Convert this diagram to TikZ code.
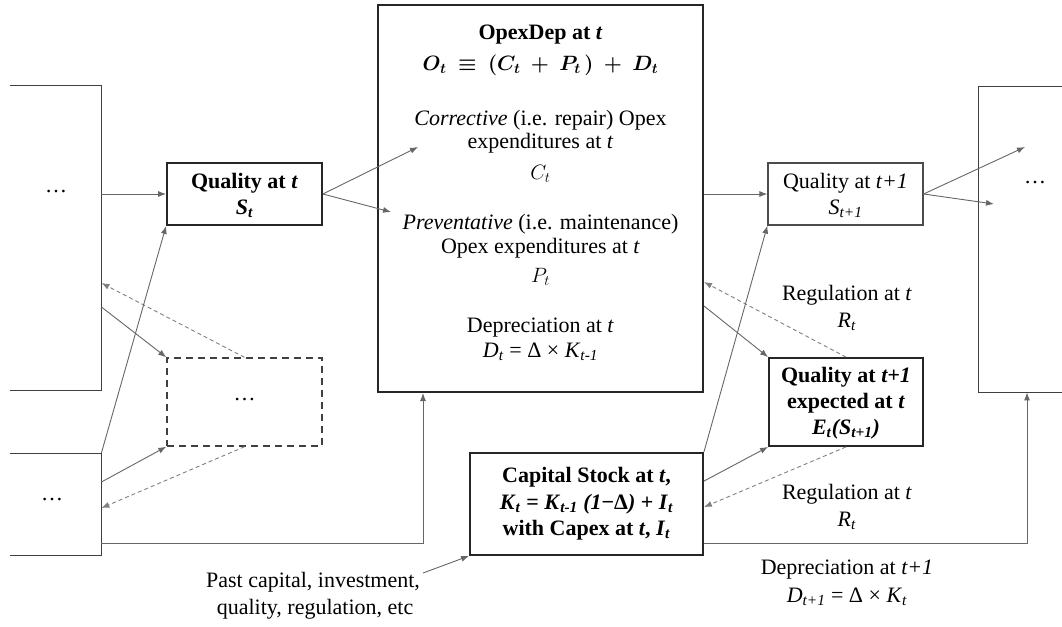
\documentclass[tikz,border=0pt]{standalone}
\usepackage{fontspec}
\setmainfont{Liberation Serif}
\usepackage{bm}
\usetikzlibrary{arrows.meta,calc}
\newcommand\tsb[1]{\textsubscript{#1}}
\newcommand\ti[1]{\textit{#1}}
\begin{document}
\begin{tikzpicture}[x=1pt,y=-1pt,
  font=\fontsize{22}{24}\selectfont,
  box/.style={draw=black!85, line width=1.8pt, inner sep=0pt},
  thinbox/.style={draw=black!70, line width=1pt, inner sep=0pt},
  dbox/.style={draw=black!75, line width=1.4pt, dash pattern=on 7pt off 5pt, inner sep=0pt},
  frame/.style={draw=none, inner sep=0pt, anchor=north west},
  side/.style={draw=black!75, line width=1pt},
  txt/.style={inner sep=0pt, align=center},
  arr/.style={draw=black!60, line width=0.9pt, -{Latex[length=8pt,width=6pt]}},
  darr/.style={draw=black!50, line width=0.9pt, dash pattern=on 4pt off 3pt, -{Latex[length=8pt,width=6pt]}},
]
\useasboundingbox (0,0) rectangle (1062,626);

% open-sided frames
\node[frame, minimum width=91pt, minimum height=305pt] (LT) at (10,85) {};
\node[frame, minimum width=91pt, minimum height=102pt] (LB) at (10,453) {};
\node[frame, minimum width=84pt, minimum height=306pt] (RB) at (978,86) {};
\draw[side] (LT.north west) -- (LT.north east) -- (LT.south east) -- (LT.south west);
\draw[side] (LB.north west) -- (LB.north east) -- (LB.south east) -- (LB.south west);
\draw[side] (RB.north east) -- (RB.north west) -- (RB.south west) -- (RB.south east);
\node[txt] (LTd) at (56,192) {\dots};
\node[txt] (LBd) at (52,500) {\dots};
\node[txt] (RBd) at (1035,183) {\dots};

% boxes
\node[box, minimum width=155pt, minimum height=62pt] (QT) at (244.5,194) {};
\node[txt] (QT1) at (244.5,183) {\textbf{Quality at \ti{t}}};
\node[txt] (QT2) at (244.5,209) {\textbf{\ti{S}\tsb{\ti{t}}}};

\node[dbox, minimum width=155pt, minimum height=88pt] (DB) at (244.5,402) {};
\node[txt] (DBd) at (244.5,400) {\dots};

\node[box, line width=2pt, minimum width=325pt, minimum height=387pt] (MB) at (540.5,198.5) {};
\node[txt] (mb1) at (540.5,35) {\textbf{OpexDep at \ti{t}}};
\node[txt] (mb2) at (540.5,65) {$\bm{O_t \;\equiv\; (C_t \;+\; P_t\,) \;+\; D_t}$};
\node[txt] (mb3) at (540.5,120) {\ti{Corrective} (i.e. repair) Opex};
\node[txt] (mb4) at (540.5,143) {expenditures at \ti{t}};
\node[txt] (mb5) at (540.5,174) {$C_t$};
\node[txt] (mb6) at (540.5,224) {\ti{Preventative} (i.e. maintenance)};
\node[txt] (mb7) at (540.5,248) {Opex expenditures at \ti{t}};
\node[txt] (mb8) at (540.5,277) {$P_t$};
\node[txt] (mb9) at (540.5,328) {Depreciation at \ti{t}};
\node[txt] (mb10) at (540.5,352) {\ti{D}\tsb{\ti{t}} = Δ × \ti{K}\tsb{\ti{t-1}}};

\node[thinbox, line width=1.2pt, minimum width=155pt, minimum height=62pt] (Q1) at (845.5,194) {};
\node[txt] (Q11) at (845.5,183) {Quality at \ti{t+1}};
\node[txt] (Q12) at (845.5,209) {\ti{S}\tsb{\ti{t+1}}};

\node[box, minimum width=154pt, minimum height=88pt] (EQ) at (846,402) {};
\node[txt] (EQ1) at (846,377) {\textbf{Quality at \ti{t+1}}};
\node[txt] (EQ2) at (846,403) {\textbf{expected at \ti{t}}};
\node[txt] (EQ3) at (846,429) {\textbf{\ti{E}\tsb{\ti{t}}\ti{(S}\tsb{\ti{t+1}}\ti{)}}};

\node[box, minimum width=233pt, minimum height=102pt] (CS) at (586.5,504) {};
\node[txt] (CS1) at (586.5,477) {\textbf{Capital Stock at \ti{t},}};
\node[txt] (CS2) at (586.5,504) {\textbf{\ti{K}\tsb{\ti{t}} = \ti{K}\tsb{\ti{t-1}} \ti{(1}−Δ\ti{)} + \ti{I}\tsb{\ti{t}}}};
\node[txt] (CS3) at (586.5,530) {\textbf{with Capex at \ti{t}, \ti{I}\tsb{\ti{t}}}};

% labels
\node[txt] (RG1) at (847,295) {Regulation at \ti{t}};
\node[txt] (RG2) at (847,322) {\ti{R}\tsb{\ti{t}}};
\node[txt] (RG3) at (847,494) {Regulation at \ti{t}};
\node[txt] (RG4) at (847,521) {\ti{R}\tsb{\ti{t}}};
\node[txt] (DP1) at (847,570) {Depreciation at \ti{t+1}};
\node[txt] (DP2) at (847,597) {\ti{D}\tsb{\ti{t+1}} = Δ × \ti{K}\tsb{\ti{t}}};
\node[txt] (PC1) at (313,582) {Past capital, investment,};
\node[txt] (PC2) at (315,609) {quality, regulation, etc};

% free ends
\coordinate (tipC) at (418,147);
\coordinate (tipP) at (391,212);
\coordinate (tipR1) at (1025,147);
\coordinate (tipR2) at (994,204);
\coordinate (pastc) at (423,573);

% connectors
\draw[arr] (LT.east |- QT.west) -- (QT.west);
\draw[arr] (QT.east) -- (tipC);
\draw[arr] (QT.east) -- (tipP);
\draw[arr] ($(LT.north east)+(0,222)$) -- (DB.north west);
\draw[darr] (DB.north) -- ($(LT.north east)+(0,198)$);
\draw[arr] (LB.north east) -- (QT.south west);
\draw[arr] ($(LB.north east)+(0,29)$) -- (DB.south west);
\draw[darr] (DB.south) -- ($(LB.north east)+(0,55)$);
\draw[arr] ($(LB.north east)+(0,90)$) -| ($(MB.south west)+(46,0)$);

\draw[arr] (MB.east |- Q1.west) -- (Q1.west);
\draw[arr] (Q1.east) -- (tipR1);
\draw[arr] (Q1.east) -- (tipR2);
\draw[arr] (CS.north east) -- (Q1.south west);
\draw[arr] ($(MB.north east)+(0,302)$) -- (EQ.north west);
\draw[darr] (EQ.north) -- ($(MB.north east)+(0,278)$);
\draw[arr] ($(CS.north east)+(0,29)$) -- (EQ.south west);
\draw[darr] (EQ.south) -- ($(CS.north east)+(0,55)$);
\draw[arr] ($(CS.north east)+(0,91)$) -| ($(RB.south west)+(49,0)$);
\draw[arr] (pastc) -- (CS.south west);
\end{tikzpicture}
\end{document}
